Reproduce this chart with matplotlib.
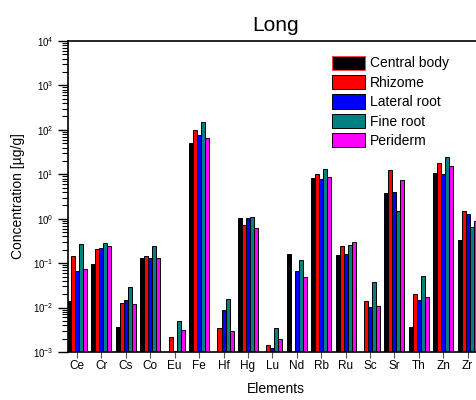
import numpy as np
import matplotlib
matplotlib.use("Agg")
import matplotlib.pyplot as plt
from matplotlib.ticker import LogLocator

plt.rcParams['font.family'] = ['Liberation Sans', 'DejaVu Sans']

elementos = ["Ce", "Cr", "Cs", "Co", "Eu", "Fe", "Hf", "Hg", "Lu", "Nd",
             "Rb", "Ru", "Sc", "Sr", "Th", "Zn", "Zr"]

# valores (nan = sin barra)
central_body = [0.014, 0.097, 0.0037, 0.13, np.nan, 51, np.nan, 1.06, np.nan, 0.157,
                8.2, 0.155, np.nan, 3.8, 0.0036, 10.6, 0.33]
rhizome = [0.145, 0.21, 0.013, 0.145, 0.0022, 97, 0.0035, 0.72, 0.00146, np.nan,
           10.0, 0.243, 0.014, 12.8, 0.0207, 18, 1.5]
lateral_root = [0.066, 0.22, 0.0147, 0.13, 0.00105, 76, 0.0087, 1.03, 0.00125, 0.067,
                7.7, 0.16, 0.0102, 4.0, 0.0147, 10.4, 1.3]
fine_root = [0.27, 0.29, 0.029, 0.24, 0.0049, 148, 0.016, 1.1, 0.0035, 0.117,
             13.3, 0.256, 0.037, 1.5, 0.052, 25, 0.65]
periderm = [0.074, 0.24, 0.012, 0.13, 0.0031, 65, 0.003, 0.61, 0.002, 0.049,
            8.6, 0.30, 0.011, 7.6, 0.0172, 15, 0.87]

series = [central_body, rhizome, lateral_root, fine_root, periderm]
nombres = ["Central body", "Rhizome", "Lateral root", "Fine root", "Periderm"]
colores = ["#000000", "#FF0000", "#0000FF", "#008080", "#FF00FF"]

fig = plt.figure(figsize=(4.77, 4.0), dpi=100)
ax = fig.add_axes([68 / 477, 48 / 400, 415 / 477, 311 / 400])

x = np.arange(len(elementos))
ancho = 0.164
for i in range(len(series)):
    ax.bar(x + (i - 2) * ancho, series[i], width=ancho, color=colores[i],
           edgecolor="black", linewidth=0.7, label=nombres[i])

ax.set_yscale("log")
ax.set_ylim(1e-3, 1e4)
ax.set_xlim(-0.37, 16.63)
ax.yaxis.set_major_locator(LogLocator(base=10, numticks=10))
ax.yaxis.set_minor_locator(LogLocator(base=10, subs=np.arange(2, 10), numticks=20))
ax.tick_params(axis="y", which="major", length=7, width=1, labelsize=7)
ax.tick_params(axis="y", which="minor", length=4, width=0.8)
ax.tick_params(axis="x", length=4, width=0.8, color="#555555", labelsize=8.5, pad=2)
ax.set_xticks(x)
ax.set_xticklabels(elementos)

for lado in ["left", "bottom", "top", "right"]:
    ax.spines[lado].set_linewidth(1.2)

ax.set_title("Long", fontsize=15, pad=7)
ax.set_ylabel("Concentration [µg/g]", fontsize=10, labelpad=6)
ax.set_xlabel("Elements", fontsize=10, labelpad=7)

leg = ax.legend(loc="upper left", bbox_to_anchor=(0.636, 0.953), frameon=False,
                fontsize=10, handlelength=2.4, handleheight=1.2,
                handletextpad=0.35, labelspacing=0.33, borderaxespad=0,
                borderpad=0)
leg.legend_handles[0].set_edgecolor("#FF4040")

fig.savefig("out.png", dpi=100)
